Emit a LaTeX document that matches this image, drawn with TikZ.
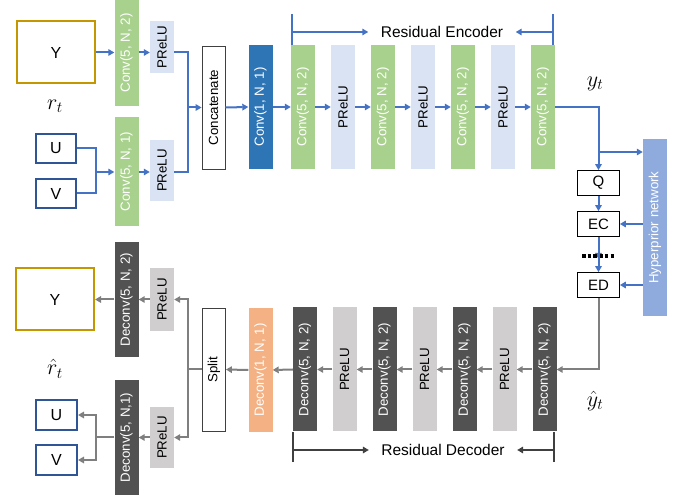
\RequirePackage{fix-cm}
\documentclass[tikz,border=0pt]{standalone}
\usepackage{fontspec}
\setmainfont{Liberation Sans}
\usepackage{graphicx}
\usetikzlibrary{arrows.meta}
\definecolor{convgreen}{HTML}{A9D18E}
\definecolor{prelublue}{HTML}{DAE3F3}
\definecolor{convdark}{HTML}{2E75B6}
\definecolor{deconvdark}{HTML}{525252}
\definecolor{prelugray}{HTML}{D0CECE}
\definecolor{deconvorange}{HTML}{F4B183}
\definecolor{hyperblue}{HTML}{8FAADC}
\definecolor{arrowblue}{HTML}{4472C4}
\definecolor{arrowgray}{HTML}{7F7F7F}
\definecolor{ygold}{HTML}{C49700}
\definecolor{uvblue}{HTML}{2F5597}
\definecolor{resgray}{HTML}{404040}
\newcommand{\vtext}[1]{\rotatebox{90}{#1}}

\begin{document}
\begin{tikzpicture}[
  x=1pt,y=-1pt,
  blk/.style={rectangle,minimum width=24pt,minimum height=124pt,inner sep=0pt,font=\fontsize{13.3}{15}\selectfont},
  conv/.style={blk,fill=convgreen,text=white},
  prelu/.style={blk,fill=prelublue,text=black},
  deconv/.style={blk,fill=deconvdark,text=white},
  prelug/.style={blk,fill=prelugray,text=black},
  frame/.style={blk,draw=black!75,line width=0.8pt,minimum width=23pt,minimum height=123pt},
  img/.style={rectangle,line width=2pt,inner sep=0pt,font=\fontsize{16}{18}\selectfont},
  op/.style={rectangle,draw=black,line width=1.3pt,minimum width=41.5pt,minimum height=24.5pt,inner sep=0pt,font=\fontsize{15}{17}\selectfont},
  lab/.style={font=\fontsize{22}{24}\selectfont},
  reslab/.style={font=\fontsize{15.5}{17}\selectfont},
  fwd/.style={-{Triangle[length=6pt,width=6.5pt]},line width=2pt,arrowblue},
  bwd/.style={-{Triangle[length=6pt,width=6.5pt]},line width=2pt,arrowgray},
  res/.style={line width=2pt}
]
  \useasboundingbox (0,0) rectangle (681,497);

  % encoder input
  \node[img,draw=ygold,minimum width=78pt,minimum height=62pt] (Yin) at (56,52.5) {Y};
  \node[img,draw=uvblue,minimum width=40pt,minimum height=29pt] (Uin) at (56,148.5) {U};
  \node[img,draw=uvblue,minimum width=40pt,minimum height=29pt] (Vin) at (56,193.5) {V};
  \node[lab] (rt) at (55,106) {$r_t$};
  \node[conv,minimum height=106pt] (convY) at (126.5,53) {\vtext{Conv(5, N, 2)}};
  \node[conv,minimum height=109pt] (convUV) at (126.5,171.5) {\vtext{Conv(5, N, 1)}};
  \node[prelu,minimum height=52pt] (preluY) at (162,47) {\vtext{PReLU}};
  \node[prelu,minimum height=61pt] (preluUV) at (162,170.5) {\vtext{PReLU}};
  \node[frame] (concat) at (213.5,107.5) {\vtext{Concatenate}};
  \coordinate (jUV) at (96,172);
  \coordinate (jcat) at (188,107.5);

  % residual encoder
  \node[blk,fill=convdark,text=white] (conv1) at (260.5,107) {\vtext{Conv(1, N, 1)}};
  \node[conv] (e1) at (303,107) {\vtext{Conv(5, N, 2)}};
  \node[prelu] (e2) at (343,107) {\vtext{PReLU}};
  \node[conv] (e3) at (383,107) {\vtext{Conv(5, N, 2)}};
  \node[prelu] (e4) at (423,107) {\vtext{PReLU}};
  \node[conv] (e5) at (463,107) {\vtext{Conv(5, N, 2)}};
  \node[prelu] (e6) at (503,107) {\vtext{PReLU}};
  \node[conv] (e7) at (543,107) {\vtext{Conv(5, N, 2)}};
  \node[reslab] (enc) at (442,32) {Residual Encoder};
  \coordinate (encL) at (292,14);
  \coordinate (encR) at (553,14);

  % entropy coding
  \node[lab] (yt) at (595,84) {$y_t$};
  \node[op] (Q) at (598.5,183) {Q};
  \node[op] (EC) at (598.5,224) {EC};
  \node[op] (ED) at (598.5,285) {ED};
  \node[blk,fill=hyperblue,text=white,minimum height=177pt] (hyper) at (655,227.5) {\vtext{Hyperprior network}};
  \coordinate (br) at (598.5,152);
  \coordinate (dashL) at (582,256);
  \coordinate (dashR) at (614,256);

  % residual decoder
  \node[deconv] (d7) at (544.5,369.5) {\vtext{Deconv(5, N, 2)}};
  \node[prelug] (d6) at (504.5,369.5) {\vtext{PReLU}};
  \node[deconv] (d5) at (464.5,369.5) {\vtext{Deconv(5, N, 2)}};
  \node[prelug] (d4) at (424.5,369.5) {\vtext{PReLU}};
  \node[deconv] (d3) at (384.5,369.5) {\vtext{Deconv(5, N, 2)}};
  \node[prelug] (d2) at (344.5,369.5) {\vtext{PReLU}};
  \node[deconv] (d1) at (305,369.5) {\vtext{Deconv(5, N, 2)}};
  \node[blk,fill=deconvorange,text=white] (dconv1) at (260.5,370) {\vtext{Deconv(1, N, 1)}};
  \node[lab] (hyt) at (595,401) {$\hat{y}_t$};
  \node[reslab] (dec) at (443,450) {Residual Decoder};
  \coordinate (decL) at (293,462);
  \coordinate (decR) at (554,462);

  % decoder output
  \node[frame] (split) at (214,369.5) {\vtext{Split}};
  \coordinate (jsp) at (188,369.5);
  \node[prelug,minimum height=63pt] (preluY2) at (162,299.5) {\vtext{PReLU}};
  \node[prelug,minimum height=61pt] (preluUV2) at (162,437.5) {\vtext{PReLU}};
  \node[deconv,minimum height=115pt] (deconvY) at (126.5,299.5) {\vtext{Deconv(5, N, 2)}};
  \node[deconv,minimum height=115pt] (deconvUV) at (126.5,437.5) {\vtext{Deconv(5, N,1)}};
  \node[img,draw=ygold,minimum width=78pt,minimum height=62pt] (Yout) at (55,299.5) {Y};
  \node[img,draw=uvblue,minimum width=41pt,minimum height=30pt] (Uout) at (56.5,415) {U};
  \node[img,draw=uvblue,minimum width=41pt,minimum height=30pt] (Vout) at (56.5,460) {V};
  \node[lab] (hrt) at (55,369) {$\hat{r}_t$};
  \coordinate (jUV2) at (96,437.5);

  % encoder arrows
  \draw[fwd] (Yin.east) -- (Yin.east -| convY.west);
  \draw[fwd] (Yin.east -| convY.east) -- (Yin.east -| preluY.west);
  \draw[fwd,-] (Yin.east -| preluY.east) -| (jcat);
  \draw[fwd,-] (Uin.east) -| (jUV);
  \draw[fwd,-] (Vin.east) -| (jUV);
  \draw[fwd] (jUV) -- (convUV.west |- jUV);
  \draw[fwd] (convUV.east |- jUV) -- (preluUV.west |- jUV);
  \draw[fwd,-] (preluUV.east |- jUV) -| (jcat);
  \draw[fwd] (jcat) -- (concat.west);
  \draw[fwd] (concat.east) -- (conv1.west);
  \draw[fwd] (conv1.east) -- (e1.west);
  \draw[fwd] (e1.east) -- (e2.west);
  \draw[fwd] (e2.east) -- (e3.west);
  \draw[fwd] (e3.east) -- (e4.west);
  \draw[fwd] (e4.east) -- (e5.west);
  \draw[fwd] (e5.east) -- (e6.west);
  \draw[fwd] (e6.east) -- (e7.west);
  \draw[fwd,-] (encL) -- (encL |- e1.north);
  \draw[fwd,-] (encR) -- (encR |- e7.north);
  \draw[fwd] (encL |- enc) -- ([xshift=-9pt]enc.west);
  \draw[fwd] (encR |- enc) -- ([xshift=9pt]enc.east);

  % entropy coding arrows
  \draw[fwd] (e7.east) -| (Q.north);
  \draw[fwd] (br) -- (br -| hyper.west);
  \draw[fwd] (Q.south) -- (EC.north);
  \draw[fwd] (EC.south) -- ([yshift=-3pt]EC.south |- dashL);
  \draw[line width=3.5pt,dash pattern=on 3.5pt off 2.2pt] (dashL) -- (dashR);
  \draw[fwd] ([yshift=2pt]ED.north |- dashL) -- (ED.north);
  \draw[fwd] (hyper.west |- EC.east) -- (EC.east);
  \draw[fwd] (hyper.west |- ED.east) -- (ED.east);
  \draw[bwd] (ED.south) |- (d7.east);

  % decoder arrows
  \draw[bwd] (d7.west) -- (d6.east);
  \draw[bwd] (d6.west) -- (d5.east);
  \draw[bwd] (d5.west) -- (d4.east);
  \draw[bwd] (d4.west) -- (d3.east);
  \draw[bwd] (d3.west) -- (d2.east);
  \draw[bwd] (d2.west) -- (d1.east);
  \draw[bwd] (d1.west) -- (dconv1.east);
  \draw[bwd] (dconv1.west) -- (split.east);
  \draw[res,resgray] (decL) -- (decL |- d1.south);
  \draw[res,resgray] (decR) -- (decR |- d7.south);
  \draw[res,resgray,-{Triangle[length=6pt,width=6.5pt]}] (decL |- dec) -- ([xshift=-9pt]dec.west);
  \draw[res,resgray,-{Triangle[length=6pt,width=6.5pt]}] (decR |- dec) -- ([xshift=9pt]dec.east);
  \draw[bwd,-] (split.west) -- (jsp);
  \draw[bwd] (jsp) |- (preluY2.east);
  \draw[bwd] (jsp) |- (preluUV2.east);
  \draw[bwd] (preluY2.west) -- (deconvY.east);
  \draw[bwd] (deconvY.west) -- (Yout.east);
  \draw[bwd] (preluUV2.west) -- (deconvUV.east);
  \draw[bwd,-] (deconvUV.west) -- (jUV2);
  \draw[bwd] (jUV2) |- (Uout.east);
  \draw[bwd] (jUV2) |- (Vout.east);
\end{tikzpicture}
\end{document}
